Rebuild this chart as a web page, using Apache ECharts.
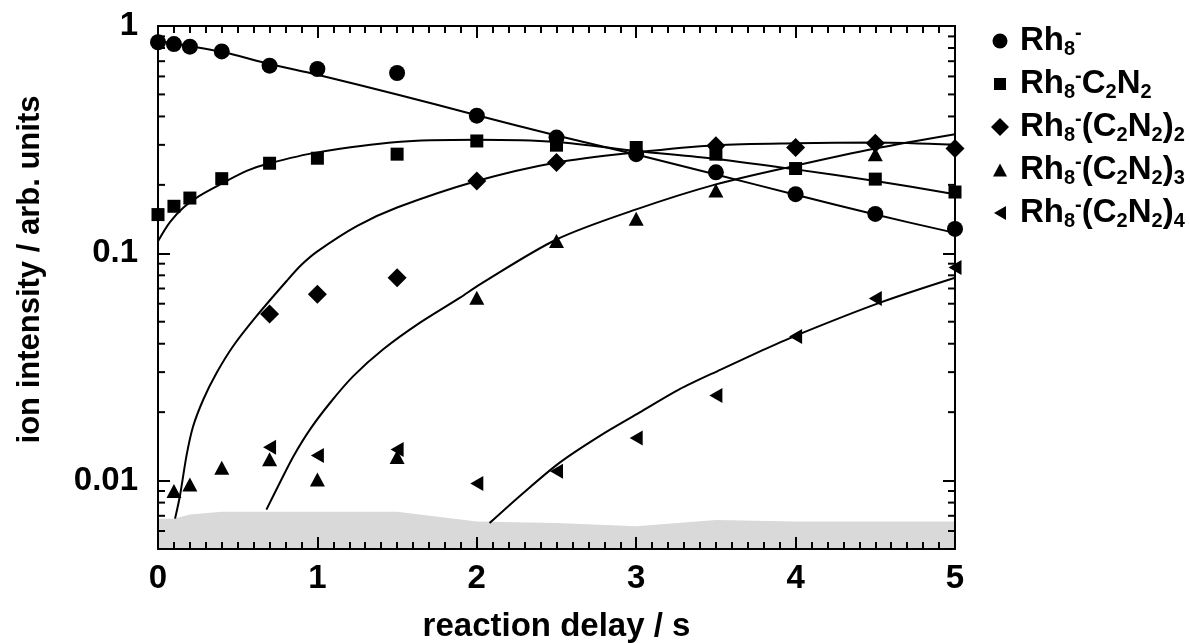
<!DOCTYPE html>
<html>
<head>
<meta charset="utf-8">
<script src="https://cdn.jsdelivr.net/npm/echarts@6/dist/echarts.min.js"></script>
<style>
  html, body { margin: 0; padding: 0; background: #fff; }
  #chart { width: 1190px; height: 643px; }
</style>
</head>
<body>
<div id="chart"></div>
<script>
// Measured ion intensities versus reaction delay (s)
const times = [0, 0.1, 0.2, 0.4, 0.7, 1, 1.5, 2, 2.5, 3, 3.5, 4, 4.5, 5];
const rh8 = [0.848, 0.833, 0.811, 0.773, 0.669, 0.647, 0.621, 0.403, 0.323, 0.273, 0.227, 0.182, 0.149, 0.128];
const rh8C2N2 = [0.148, 0.161, 0.175, 0.213, 0.249, 0.262, 0.273, 0.312, 0.299, 0.292, 0.273, 0.236, 0.212, 0.186];

const times2 = [0.7, 1, 1.5, 2, 2.5, 3.5, 4, 4.5, 5];
const rh8C2N2x2 = [0.054, 0.066, 0.078, 0.208, 0.251, 0.297, 0.292, 0.305, 0.289];

const times3 = [0.1, 0.2, 0.4, 0.7, 1, 1.5, 2, 2.5, 3, 3.5, 4.5];
const rh8C2N2x3 = [0.0090, 0.0096, 0.0114, 0.0124, 0.0101, 0.0127, 0.0638, 0.1133, 0.142, 0.189, 0.273];

const times4 = [0.7, 1, 1.5, 2, 2.5, 3, 3.5, 4, 4.5, 5];
const rh8C2N2x4 = [0.0140, 0.0129, 0.0137, 0.0097, 0.0110, 0.0154, 0.0237, 0.0430, 0.0632, 0.0865];

// Kinetic fit curves
const fit1T = [0, 0.4, 0.7, 1, 1.5, 2, 2.5, 3, 3.5, 4, 4.5, 5];
const fit1V = [0.86, 0.77, 0.68, 0.61, 0.50, 0.405, 0.33, 0.272, 0.222, 0.181, 0.148, 0.123];

const fit2T = [0, 0.075, 0.16, 0.26, 0.39, 0.56, 0.7, 1, 1.5, 2, 2.5, 3, 3.5, 4, 4.5, 5];
const fit2V = [0.113, 0.137, 0.159, 0.179, 0.201, 0.231, 0.249, 0.278, 0.309, 0.316, 0.309, 0.282, 0.260, 0.234, 0.208, 0.182];

const fit3T = [0.107, 0.138, 0.18, 0.22, 0.285, 0.368, 0.472, 0.619, 0.807, 0.9, 1.0, 1.25, 1.5, 2, 2.5, 3, 3.5, 4, 4.5, 5];
const fit3V = [0.0068, 0.0086, 0.0130, 0.0173, 0.0228, 0.0298, 0.0391, 0.053, 0.0755, 0.089, 0.102, 0.132, 0.159, 0.208, 0.251, 0.278, 0.299, 0.305, 0.307, 0.300];

const fit4T = [0.68, 0.765, 0.85, 0.954, 1.08, 1.225, 1.413, 1.644, 1.895, 2.02, 2.5, 3, 3.5, 4, 4.5, 5];
const fit4V = [0.00745, 0.0098, 0.0128, 0.0168, 0.022, 0.0288, 0.0378, 0.0495, 0.0638, 0.073, 0.115, 0.156, 0.201, 0.243, 0.289, 0.334];

const fit5T = [2.08, 2.29, 2.52, 2.77, 3.02, 3.27, 3.53, 3.78, 4.02, 4.53, 5];
const fit5V = [0.0065, 0.0088, 0.0120, 0.0157, 0.0199, 0.0252, 0.0308, 0.0371, 0.0440, 0.0607, 0.0781];

// Noise level (shaded band)
const noiseT = [0, 0.1, 0.2, 0.4, 0.7, 1, 1.5, 2, 2.5, 3, 3.5, 4, 4.5, 5];
const noiseV = [0.0068, 0.0068, 0.0071, 0.0073, 0.0073, 0.0073, 0.0073, 0.0066, 0.0065, 0.0063, 0.0067, 0.0066, 0.0066, 0.0066];

// Axis ranges and minor log ticks
const xRange = [0, 5];
const yRange = [0.005, 1];
const yMinorTicks = [0.006, 0.007, 0.008, 0.009, 0.02, 0.03, 0.04, 0.05, 0.06, 0.07, 0.08, 0.09,
                     0.2, 0.3, 0.4, 0.5, 0.6, 0.7, 0.8, 0.9];

const seriesNames = ['Rh8-', 'Rh8-C2N2', 'Rh8-(C2N2)2', 'Rh8-(C2N2)3', 'Rh8-(C2N2)4'];
const legendLabels = [
  '{m|Rh}{s|8}{u|-}',
  '{m|Rh}{s|8}{u|-}{m|C}{s|2}{m|N}{s|2}',
  '{m|Rh}{s|8}{u|-}{m|(C}{s|2}{m|N}{s|2}{m|)}{s|2}',
  '{m|Rh}{s|8}{u|-}{m|(C}{s|2}{m|N}{s|2}{m|)}{s|3}',
  '{m|Rh}{s|8}{u|-}{m|(C}{s|2}{m|N}{s|2}{m|)}{s|4}'
];
const leftTriangle = 'path://M0,6.5 L12,0 L12,13 Z';
const symbols = ['circle', 'rect', 'diamond', 'triangle', leftTriangle];
const symbolSizes = [16, 13, 19, [15, 14], [13, 15]];

// Legend glyphs inside an 18x18 box (the leading moves fix the box)
const legendIcons = [
  'path://M0,0 M18,18 M1.5,9 A7.5,7.5 0 1 1 16.5,9 A7.5,7.5 0 1 1 1.5,9 Z',
  'path://M0,0 M18,18 M3,3 L15,3 L15,15 L3,15 Z',
  'path://M9,0 L18,9 L9,18 L0,9 Z',
  'path://M0,0 M18,18 M2,15.5 L9,2.5 L16,15.5 Z',
  'path://M0,0 M18,18 M3,9 L15,2 L15,16 Z'
];

const FONT = '"Liberation Sans", Arial, Helvetica, sans-serif';
const BLACK = '#000';

const zip = (xs, ys) => xs.map((x, i) => [x, ys[i]]);

const pointSets = [zip(times, rh8), zip(times, rh8C2N2), zip(times2, rh8C2N2x2),
                   zip(times3, rh8C2N2x3), zip(times4, rh8C2N2x4)];
const fitSets = [zip(fit1T, fit1V), zip(fit2T, fit2V), zip(fit3T, fit3V),
                 zip(fit4T, fit4V), zip(fit5T, fit5V)];

const isDecade = v => Math.abs(Math.log10(v) - Math.round(Math.log10(v))) < 1e-6;

const axisLine = { show: true, onZero: false, lineStyle: { color: BLACK, width: 2 } };
const tickStyle = { color: BLACK, width: 2 };
const labelStyle = { color: BLACK, fontSize: 33, fontWeight: 'bold', fontFamily: FONT };

const chart = echarts.init(document.getElementById('chart'), null, { renderer: 'canvas' });

const series = [];

// shaded noise band, drawn beneath the axes
series.push({
  type: 'line',
  data: zip(noiseT, noiseV),
  symbol: 'none',
  lineStyle: { width: 0 },
  areaStyle: { color: '#d9d9d9', opacity: 1, origin: 'start' },
  silent: true,
  z: -1
});

fitSets.forEach(d => {
  series.push({
    type: 'line',
    data: d,
    symbol: 'none',
    smooth: 0.3,
    lineStyle: { color: BLACK, width: 2 },
    silent: true,
    z: 3
  });
});

pointSets.forEach((d, i) => {
  series.push({
    name: seriesNames[i],
    type: 'scatter',
    data: d,
    symbol: symbols[i],
    symbolSize: symbolSizes[i],
    itemStyle: { color: BLACK, opacity: 1 },
    z: 4
  });
});

// minor decade ticks on the left and right frame
series.push({
  type: 'custom',
  data: yMinorTicks.map(v => [xRange[0], v]),
  silent: true,
  z: 5,
  renderItem: (params, api) => {
    const y = api.coord([api.value(0), api.value(1)])[1];
    const cs = params.coordSys;
    const st = { stroke: BLACK, lineWidth: 2 };
    return {
      type: 'group',
      children: [
        { type: 'line', shape: { x1: cs.x, y1: y, x2: cs.x + 7, y2: y }, style: st },
        { type: 'line', shape: { x1: cs.x + cs.width, y1: y, x2: cs.x + cs.width - 7, y2: y }, style: st }
      ]
    };
  }
});

const richText = {
  m: { fontSize: 33, fontWeight: 'bold', fontFamily: FONT, color: BLACK, lineHeight: 36 },
  s: { fontSize: 20, fontWeight: 'bold', fontFamily: FONT, color: BLACK, lineHeight: 6, verticalAlign: 'bottom' },
  u: { fontSize: 20, fontWeight: 'bold', fontFamily: FONT, color: BLACK, lineHeight: 6, verticalAlign: 'top' }
};

const option = {
  animation: false,
  backgroundColor: '#fff',
  grid: { left: 158, right: 235, top: 26, bottom: 94, containLabel: false, outerBoundsMode: 'none' },
  legend: {
    orient: 'vertical',
    left: 986,
    top: 18,
    itemWidth: 18,
    itemHeight: 18,
    itemGap: 7,
    selectedMode: false,
    data: seriesNames.map((n, i) => ({ name: n, icon: legendIcons[i], itemStyle: { color: BLACK } })),
    formatter: name => legendLabels[seriesNames.indexOf(name)],
    textStyle: { rich: richText, padding: [0, 0, 0, 6] }
  },
  xAxis: [
    {
      type: 'value', position: 'bottom', min: xRange[0], max: xRange[1], interval: 1,
      axisLine: axisLine,
      axisTick: { show: true, inside: true, length: 12, lineStyle: tickStyle },
      minorTick: { show: true, splitNumber: 10, length: 7, lineStyle: tickStyle },
      axisLabel: Object.assign({ margin: 13 }, labelStyle),
      splitLine: { show: false },
      name: 'reaction delay / s',
      nameLocation: 'middle',
      nameGap: 61,
      nameTextStyle: labelStyle
    },
    {
      type: 'value', position: 'top', min: xRange[0], max: xRange[1], interval: 1,
      axisLine: axisLine,
      axisTick: { show: true, inside: true, length: 12, lineStyle: tickStyle },
      minorTick: { show: true, splitNumber: 10, length: 7, lineStyle: tickStyle },
      axisLabel: { show: false },
      splitLine: { show: false }
    }
  ],
  yAxis: [
    {
      type: 'log', logBase: 10, position: 'left', min: yRange[0], max: yRange[1],
      axisLine: axisLine,
      axisTick: { show: true, inside: true, length: 12, lineStyle: tickStyle },
      axisLabel: Object.assign({
        margin: 20,
        formatter: v => isDecade(v) ? String(+(+v).toPrecision(3)) : ''
      }, labelStyle),
      splitLine: { show: false },
      name: 'ion intensity / arb. units',
      nameLocation: 'middle',
      nameGap: 112,
      nameRotate: 90,
      nameTextStyle: Object.assign({}, labelStyle, { fontSize: 31, padding: [0, 0, 0, 36] })
    },
    {
      type: 'log', logBase: 10, position: 'right', min: yRange[0], max: yRange[1],
      axisLine: axisLine,
      axisTick: { show: true, inside: true, length: 12, lineStyle: tickStyle },
      axisLabel: { show: false },
      splitLine: { show: false }
    }
  ],
  series: series
};

chart.setOption(option);
</script>
</body>
</html>
